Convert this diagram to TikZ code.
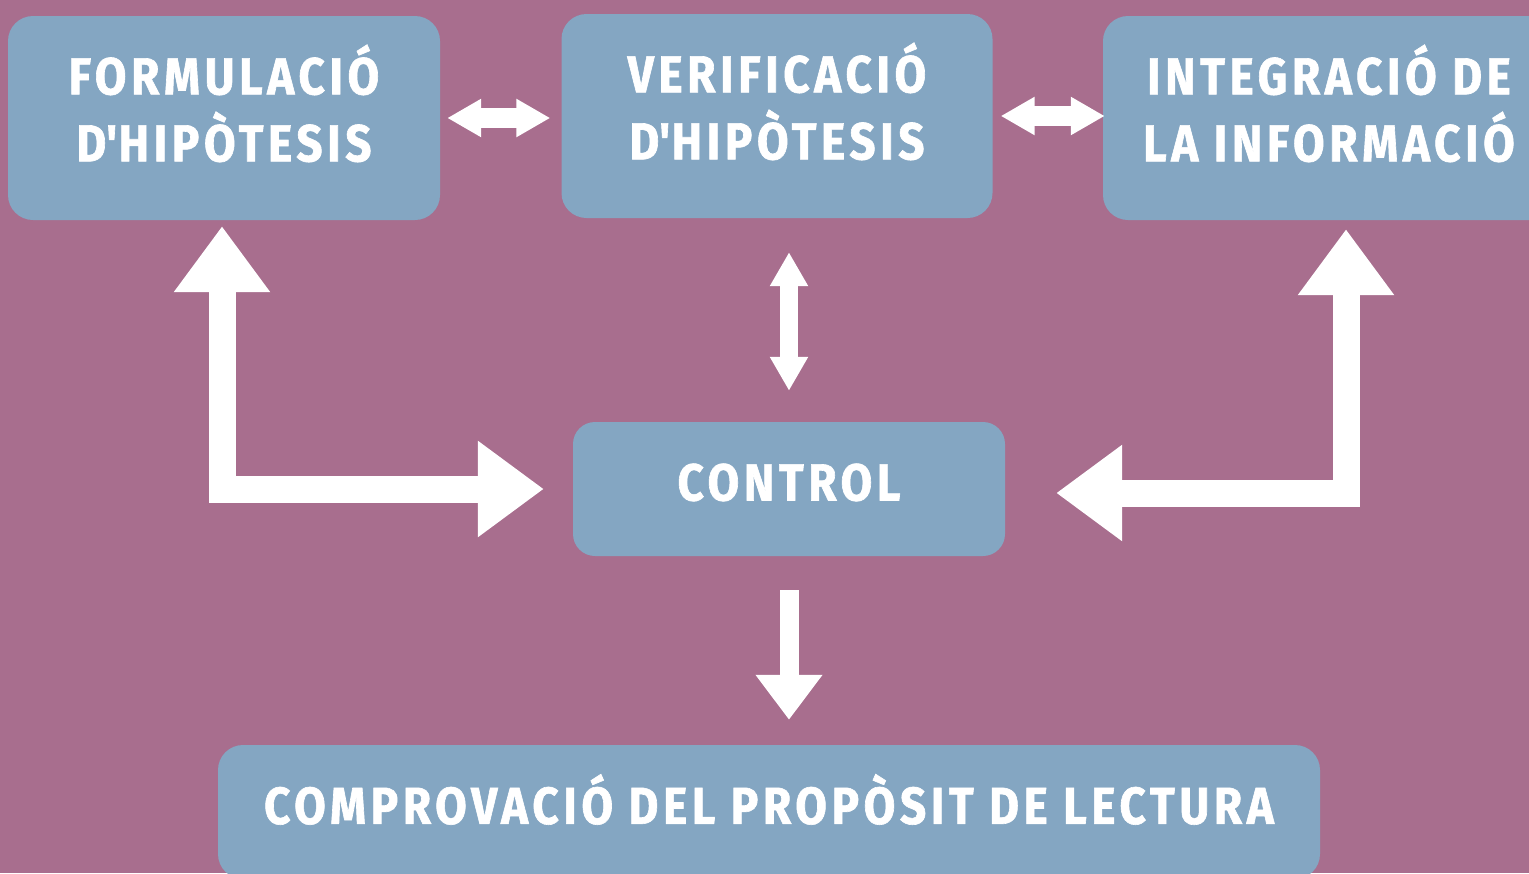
\documentclass[tikz,border=0pt]{standalone}
\usepackage{fontspec}
\setmainfont{Fira Sans}[FakeStretch=0.88,LetterSpace=9,BoldFeatures={FakeBold=1.2}]
\usetikzlibrary{arrows.meta}
\definecolor{fons}{RGB}{168,110,142}
\definecolor{caixa}{RGB}{132,166,194}

\begin{document}
\begin{tikzpicture}[x=1pt,y=-1pt]
			\tikzstyle{pas}=[fill=caixa,rounded corners=25pt,text=white,font=\bfseries\fontsize{52}{67}\selectfont,align=center,inner sep=0pt]
			\tikzstyle{gran}=[draw=white,line width=27pt,line join=miter,{Triangle[width=92pt,length=66pt]}-{Triangle[width=92pt,length=66pt]}]
			\tikzstyle{doble}=[draw=white,line width=20pt,{Triangle[width=36pt,length=34pt]}-{Triangle[width=36pt,length=34pt]}]
			\useasboundingbox[fill=fons] (0,0) rectangle (1529,873);
			\begin{scope}
			\node[pas,minimum width=432pt,minimum height=204pt,text depth=30pt] (form) at (224,118) {FORMULACIÓ\\D\textquotesingle HIPÒTESIS};
			\node[pas,minimum width=431pt,minimum height=204pt,text depth=30pt] (verif) at (777,116) {VERIFICACIÓ\\D\textquotesingle HIPÒTESIS};
			\node[pas,minimum width=452pt,minimum height=204pt,text depth=30pt] (integ) at (1329,118) {INTEGRACIÓ DE\\LA INFORMACIÓ};
			\node[pas,minimum width=432pt,minimum height=134pt,rounded corners=22pt,text depth=14pt] (ctrl) at (789,489) {CONTROL};
			\node[pas,minimum width=1102pt,minimum height=134pt,text depth=26pt] (comp) at (769,812) {COMPROVACIÓ DEL PROPÒSIT DE LECTURA};
			\end{scope}
			
			\draw[doble,shorten <=7pt,shorten >=11pt] (form.east) -- (form.east -| verif.west);
			\draw[doble,shorten <=8pt,shorten >=-2pt] (verif.east) -- (verif.east -| integ.west);
			\draw[doble,line width=18pt,shorten <=34pt,shorten >=31pt] (verif.south -| ctrl.north) -- (ctrl.north);
			\draw[gran,shorten <=6pt,shorten >=29pt] ([xshift=-2pt]form.south) |- (ctrl.west);
			\draw[gran,shorten <=9pt,shorten >=51pt] ([xshift=17pt]integ.south) |- ([yshift=-4pt]ctrl.east);
			\draw[draw=white,line width=19pt,-{Triangle[width=64pt,length=45pt]},shorten <=34pt,shorten >=25pt] (ctrl.south) -- (ctrl.south |- comp.north);
		\end{tikzpicture}
\end{document}
